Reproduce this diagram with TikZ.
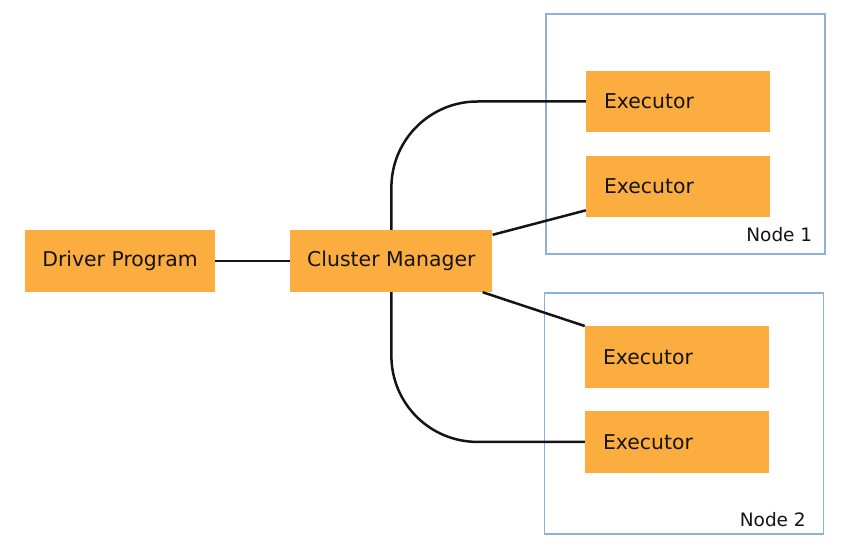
\documentclass[tikz,border=0pt]{standalone}
\usepackage{fontspec}
\setmainfont{DejaVu Sans}
\usetikzlibrary{positioning,calc}
\definecolor{boxorange}{RGB}{251,173,64}
\definecolor{frameblue}{RGB}{142,176,218}
\definecolor{inkblack}{RGB}{20,20,20}

\begin{document}
\begin{tikzpicture}[x=1pt, y=-1pt, every node/.style={font=\fontsize{20.4}{24}\selectfont, text=inkblack},
    block/.style={fill=boxorange, inner sep=0pt, minimum height=62pt},
    exec/.style={block, minimum height=61.5pt, text width=148pt, inner xsep=18pt, align=left},
    host/.style={draw=frameblue, line width=1.6pt, minimum width=279pt, minimum height=240pt, inner sep=0pt},
    hostlabel/.style={font=\fontsize{18.5}{22}\selectfont, anchor=base east},
    link/.style={draw=inkblack, line width=2.5pt}]
  \useasboundingbox (0,0) rectangle (844,551);
  % machines
  \node[host] (host1) at (685.5,134) {};
  \node[host, minimum height=241pt] (host2) at (684,413.5) {};
  \node[hostlabel] (label1) at ($(host1.south east)+(-10,-13)$) {Node 1};
  \node[hostlabel] (label2) at ($(host2.south east)+(-15,-8)$) {Node 2};
  % processes
  \node[block, minimum width=190pt] (driver) at (120,261) {Driver Program};
  \node[block, minimum width=202pt, right=75pt of driver] (cm) {Cluster Manager};
  \node[exec] (exec1) at (678,101.5) {Executor};
  \node[exec, below=23pt of exec1] (exec2) {Executor};
  \node[exec] (exec3) at (677,357) {Executor};
  \node[exec, below=23pt of exec3] (exec4) {Executor};
  % connections
  \draw[link] (driver) -- (cm);
  \draw[link, rounded corners=86pt] (cm.north) |- (exec1.west);
  \draw[link] ($(cm.north east)+(0,5)$) -- ($(exec2.south west)+(0,-7)$);
  \draw[link] ($(cm.south east)+(-10,0)$) -- (exec3.north west);
  \draw[link, rounded corners=86pt] (cm.south) |- (exec4.west);
\end{tikzpicture}
\end{document}
